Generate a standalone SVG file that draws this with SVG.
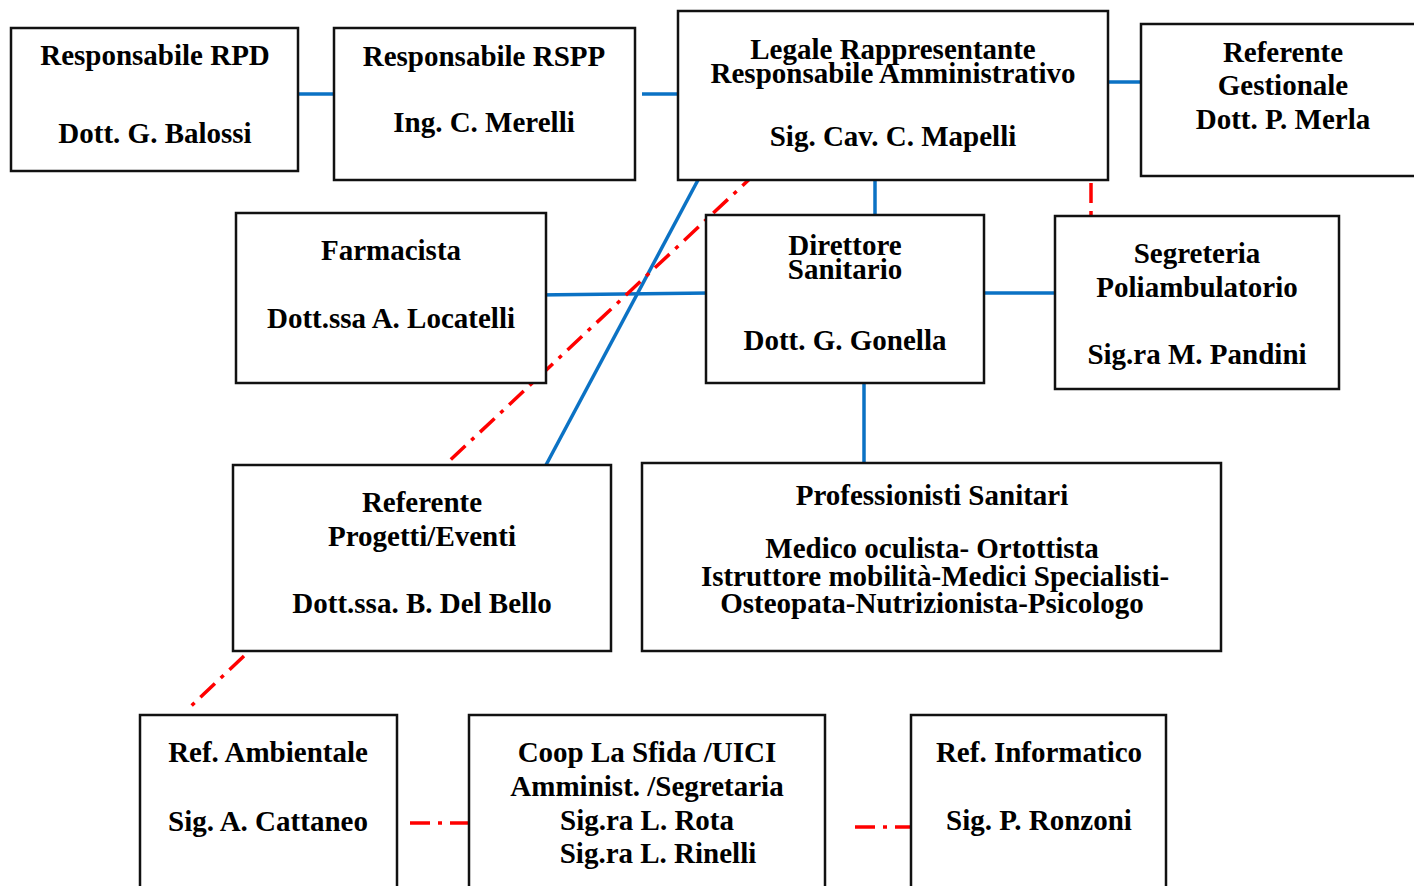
<svg xmlns="http://www.w3.org/2000/svg" width="1414" height="886" viewBox="0 0 1414 886">
<style>
.box{fill:#fff;stroke:#111;stroke-width:2.5}
.t{font-family:"Liberation Serif","Times New Roman",serif;font-weight:bold;font-size:29px;fill:#000;text-anchor:middle}
.blue{stroke:#0b72c4;stroke-width:3.5;fill:none}
.red{stroke:#ff0000;stroke-width:3.5;fill:none;stroke-dasharray:20 8 4 8}
</style>
<rect width="1414" height="886" fill="#fff"/>
<g id="connectors">
<line class="blue" x1="298" y1="94" x2="334" y2="94"/>
<line class="blue" x1="642" y1="94" x2="678" y2="94"/>
<line class="blue" x1="1108" y1="82" x2="1145" y2="82"/>
<line class="blue" x1="875" y1="177" x2="875" y2="215"/>
<line class="blue" x1="984" y1="293" x2="1055" y2="293"/>
<line class="blue" x1="536" y1="295" x2="710" y2="293"/>
<line class="blue" x1="864" y1="377" x2="864" y2="463"/>
<line class="blue" x1="698" y1="180" x2="546" y2="465"/>
<line class="red" x1="757" y1="172" x2="445" y2="465"/>
<line class="red" x1="1091" y1="183" x2="1091" y2="216"/>
<line class="red" x1="244" y1="656" x2="190" y2="707"/>
<line class="red" x1="410" y1="823" x2="468" y2="823"/>
<line class="red" x1="855" y1="827" x2="911" y2="827"/>
</g>
<g id="rpd">
<rect class="box" x="11" y="28" width="287" height="143"/>
<text class="t" x="155" y="65">Responsabile RPD</text>
<text class="t" x="155" y="143">Dott. G. Balossi</text>
</g>
<g id="rspp">
<rect class="box" x="334" y="28" width="301" height="152"/>
<text class="t" x="484" y="66">Responsabile RSPP</text>
<text class="t" x="484" y="132">Ing. C. Merelli</text>
</g>
<g id="legale">
<rect class="box" x="678" y="11" width="430" height="169"/>
<text class="t" x="893" y="59">Legale Rappresentante</text>
<text class="t" x="893" y="83">Responsabile Amministrativo</text>
<text class="t" x="893" y="146">Sig. Cav. C. Mapelli</text>
</g>
<g id="referente-gestionale">
<rect class="box" x="1141" y="24" width="290" height="152"/>
<text class="t" x="1283" y="62">Referente</text>
<text class="t" x="1283" y="95">Gestionale</text>
<text class="t" x="1283" y="129">Dott. P. Merla</text>
</g>
<g id="farmacista">
<rect class="box" x="236" y="213" width="310" height="170"/>
<text class="t" x="391" y="260">Farmacista</text>
<text class="t" x="391" y="328">Dott.ssa A. Locatelli</text>
</g>
<g id="direttore">
<rect class="box" x="706" y="215" width="278" height="168"/>
<text class="t" x="845" y="255">Direttore</text>
<text class="t" x="845" y="279">Sanitario</text>
<text class="t" x="845" y="350">Dott. G. Gonella</text>
</g>
<g id="segreteria">
<rect class="box" x="1055" y="216" width="284" height="173"/>
<text class="t" x="1197" y="263">Segreteria</text>
<text class="t" x="1197" y="297">Poliambulatorio</text>
<text class="t" x="1197" y="364">Sig.ra M. Pandini</text>
</g>
<g id="referente-progetti">
<rect class="box" x="233" y="465" width="378" height="186"/>
<text class="t" x="422" y="512">Referente</text>
<text class="t" x="422" y="546">Progetti/Eventi</text>
<text class="t" x="422" y="613">Dott.ssa. B. Del Bello</text>
</g>
<g id="professionisti">
<rect class="box" x="642" y="463" width="579" height="188"/>
<text class="t" x="932" y="505">Professionisti Sanitari</text>
<text class="t" x="932" y="558">Medico oculista- Ortottista</text>
<text class="t" x="935" y="586">Istruttore mobilità-Medici Specialisti-</text>
<text class="t" x="932" y="613">Osteopata-Nutrizionista-Psicologo</text>
</g>
<g id="ambientale">
<rect class="box" x="140" y="715" width="257" height="190"/>
<text class="t" x="268" y="762">Ref. Ambientale</text>
<text class="t" x="268" y="831">Sig. A. Cattaneo</text>
</g>
<g id="coop">
<rect class="box" x="469" y="715" width="356" height="190"/>
<text class="t" x="647" y="762">Coop La Sfida /UICI</text>
<text class="t" x="647" y="796">Amminist. /Segretaria</text>
<text class="t" x="647" y="830">Sig.ra L. Rota</text>
<text class="t" x="658" y="863">Sig.ra L. Rinelli</text>
</g>
<g id="informatico">
<rect class="box" x="911" y="715" width="255" height="190"/>
<text class="t" x="1039" y="762">Ref. Informatico</text>
<text class="t" x="1039" y="830">Sig. P. Ronzoni</text>
</g>
</svg>
